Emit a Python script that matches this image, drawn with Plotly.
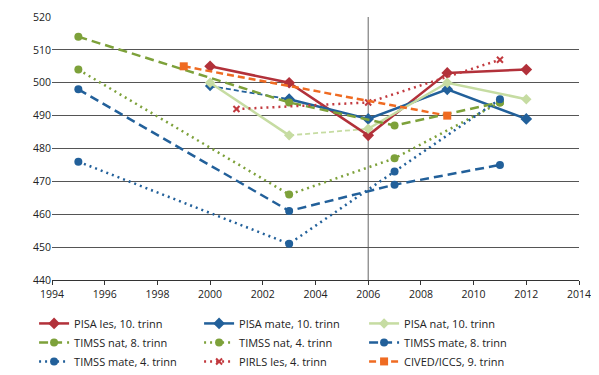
import plotly.graph_objects as go

# Data
pisa_les_x = [2000, 2003, 2006, 2009, 2012]
pisa_les_y = [505, 500, 484, 503, 504]

pisa_mate_x = [2003, 2006, 2009, 2012]
pisa_mate_y = [495, 489, 498, 489]
pisa_mate_early_x = [2000, 2003]
pisa_mate_early_y = [499, 495]

pisa_nat_x = [2000, 2003, None, 2006, 2009, 2012]
pisa_nat_y = [500, 484, None, 486, 500, 495]
pisa_nat_gap_x = [2003, 2006]
pisa_nat_gap_y = [484, 486]

timss_nat8_x = [1995, 2003, 2007, 2011]
timss_nat8_y = [514, 494, 487, 494]

timss_nat4_x = [1995, 2003, 2007, 2011]
timss_nat4_y = [504, 466, 477, 494]

timss_mate8_x = [1995, 2003, 2007, 2011]
timss_mate8_y = [498, 461, 469, 475]

timss_mate4_x = [1995, 2003, 2007, 2011]
timss_mate4_y = [476, 451, 473, 495]

pirls_x = [2001, 2006, 2011]
pirls_y = [492, 494, 507]

cived_x = [1999, 2009]
cived_y = [505, 490]

DARKRED = "#b2313a"
BLUE = "#22609a"
LIGHTGREEN = "#c6dca2"
GREEN = "#7da13a"
RED = "#c23a3f"
ORANGE = "#ef6b22"

fig = go.Figure()

def add(name, x, y, color, dash, symbol, msize, width=2.5, showlegend=True, mode="lines+markers", mline=None):
    fig.add_trace(go.Scatter(
        x=x, y=y, name=name, mode=mode, showlegend=showlegend,
        connectgaps=False,
        line=dict(color=color, width=width, dash=dash),
        marker=dict(color=color, symbol=symbol, size=msize,
                    line=mline if mline else dict(width=0)),
    ))

# extra dashed segments (not in legend)
add("PISA mate (2000)", pisa_mate_early_x, pisa_mate_early_y, BLUE, "5px,3px", "diamond", 8, width=1.8, showlegend=False)
add("PISA nat (gap)", pisa_nat_gap_x, pisa_nat_gap_y, LIGHTGREEN, "5px,3px", "diamond", 8, width=1.8, showlegend=False, mode="lines")

add("PISA les, 10. trinn", pisa_les_x, pisa_les_y, DARKRED, "solid", "diamond", 9)
add("PISA mate, 10. trinn", pisa_mate_x, pisa_mate_y, BLUE, "solid", "diamond", 9)
add("PISA nat, 10. trinn", pisa_nat_x, pisa_nat_y, LIGHTGREEN, "solid", "diamond", 8)
add("TIMSS nat, 8. trinn", timss_nat8_x, timss_nat8_y, GREEN, "9px,5px", "circle", 8)
add("TIMSS nat, 4. trinn", timss_nat4_x, timss_nat4_y, GREEN, "2px,4px", "circle", 8)
add("TIMSS mate, 8. trinn", timss_mate8_x, timss_mate8_y, BLUE, "9px,5px", "circle", 8)
add("TIMSS mate, 4. trinn", timss_mate4_x, timss_mate4_y, BLUE, "2px,4px", "circle", 8)
add("PIRLS les, 4. trinn", pirls_x, pirls_y, RED, "2px,4px", "x-thin-open", 6, mline=dict(color=RED, width=2))
add("CIVED/ICCS, 9. trinn", cived_x, cived_y, ORANGE, "7px,4px", "square", 8)

fig.add_shape(type="line", xref="x", yref="y", x0=2006, x1=2006, y0=440, y1=520,
              line=dict(color="#666666", width=1), layer="below")

fig.update_layout(
    width=591, height=367,
    margin=dict(l=44, r=20, t=9, b=95, autoexpand=False),
    paper_bgcolor="white", plot_bgcolor="white",
    font=dict(family="Open Sans, Liberation Sans, sans-serif", size=10, color="#222222"),
    legend=dict(
        orientation="h", x=-0.034, xanchor="left", y=-0.11, yanchor="top",
        entrywidth=120, entrywidthmode="pixels",
        font=dict(size=11, color="#222222"),
        tracegroupgap=0, itemwidth=30,
    ),
    xaxis=dict(
        range=[1994, 2014], dtick=2, tick0=1994, showgrid=False,
        showline=True, linecolor="#333333", linewidth=1,
        ticks="outside", ticklen=4, tickcolor="#333333",
        zeroline=False, tickfont=dict(size=10.5),
    ),
    yaxis=dict(
        range=[440, 520], dtick=10, showgrid=True, gridcolor="#555555", gridwidth=1,
        showline=False, zeroline=False, ticks="", tickfont=dict(size=10.5),
    ),
)

fig.write_html("out.html")
